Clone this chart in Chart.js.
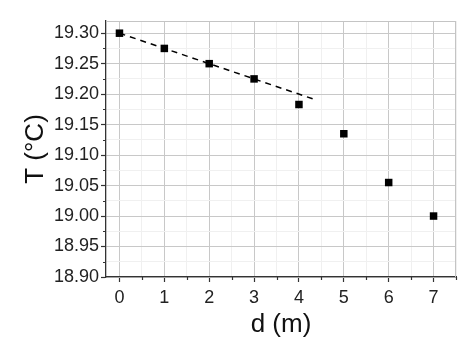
<!DOCTYPE html>
<html><head><meta charset="utf-8">
<script src="https://cdn.jsdelivr.net/npm/chart.js@4"></script>
<style>html,body{margin:0;padding:0;background:#fff}#w{width:467px;height:347px}</style>
</head><body><div id="w"><canvas id="c"></canvas></div>
<script>
const distances = [0, 1, 2, 3, 4, 5, 6, 7];
const temps = [19.300, 19.275, 19.250, 19.225, 19.183, 19.135, 19.055, 19.000];
const fitX = [0, 4.4];
const fitY = [19.300, 19.190];
const xTickLabels = ['0','1','2','3','4','5','6','7'];
const yTickLabels = ['18.90','18.95','19.00','19.05','19.10','19.15','19.20','19.25','19.30'];

const xMajor = xTickLabels.map(Number);
const yMajor = yTickLabels.map(Number);
const xMinor = xMajor.map(v => v + 0.5);
const yMinor = yMajor.slice(0, -1).map(v => +(v + 0.025).toFixed(3));
const isMajor = (v, arr) => arr.some(a => Math.abs(a - v) < 1e-6);

const extras = {
  id: 'extras',
  afterDraw(chart) {
    const {ctx, chartArea: a, scales: {x, y}} = chart;
    ctx.save();
    ctx.strokeStyle = '#c4c4c4'; ctx.lineWidth = 1;
    ctx.beginPath();
    ctx.moveTo(a.left, a.top + 0.5); ctx.lineTo(a.right, a.top + 0.5);
    ctx.moveTo(a.right - 0.5, a.top); ctx.lineTo(a.right - 0.5, a.bottom);
    ctx.stroke();
    ctx.strokeStyle = '#333'; ctx.lineWidth = 1.2;
    ctx.beginPath();
    xMinor.forEach(v => { const p = Math.round(x.getPixelForValue(v)) + 0.5; ctx.moveTo(p, a.bottom); ctx.lineTo(p, a.bottom + 3); });
    yMinor.forEach(v => { const p = Math.round(y.getPixelForValue(v)) + 0.5; ctx.moveTo(a.left, p); ctx.lineTo(a.left - 3, p); });
    ctx.stroke();
    ctx.restore();
  }
};

new Chart(document.getElementById('c'), {
  type: 'scatter',
  data: {
    datasets: [
      { type: 'line', data: fitX.map((v, i) => ({x: v, y: fitY[i]})), borderColor: '#000', borderWidth: 1.5,
        borderDash: [6, 5], pointRadius: 0, fill: false, order: 2 },
      { data: distances.map((v, i) => ({x: v, y: temps[i]})), pointStyle: 'rect', radius: 5.3,
        backgroundColor: '#000', borderColor: '#000', borderWidth: 0, order: 1 }
    ]
  },
  plugins: [extras],
  options: {
    responsive: true, maintainAspectRatio: false, animation: false,
    layout: { padding: { top: 21, right: 11, left: 0, bottom: 0 } },
    plugins: { legend: { display: false }, tooltip: { enabled: false } },
    scales: {
      x: {
        type: 'linear', min: -0.3, max: 7.5,
        afterBuildTicks: s => { s.ticks = [...xMajor, ...xMinor].sort((a, b) => a - b).map(v => ({value: v})); },
        afterFit: s => { s.height = 70; },
        ticks: { autoSkip: false, maxRotation: 0, padding: 5, color: '#222',
          font: { family: 'Liberation Sans, Arial, sans-serif', size: 18 },
          callback: v => isMajor(v, xMajor) ? xTickLabels[xMajor.findIndex(a => Math.abs(a - v) < 1e-6)] : '' },
        grid: { color: c => isMajor(c.tick.value, xMajor) ? '#c8c8c8' : '#f0f0f0',
          tickColor: c => isMajor(c.tick.value, xMajor) ? '#333' : 'rgba(0,0,0,0)', tickLength: 5, tickWidth: 1.2 },
        border: { color: '#333', width: 1.3 },
        title: { display: true, text: 'd (m)', color: '#111', padding: { top: 0, bottom: 7 },
          font: { family: 'Liberation Sans, Arial, sans-serif', size: 26 } }
      },
      y: {
        type: 'linear', min: 18.9, max: 19.32,
        afterBuildTicks: s => { s.ticks = [...yMajor, ...yMinor].sort((a, b) => a - b).map(v => ({value: v})); },
        afterFit: s => { s.width = 106; },
        ticks: { autoSkip: false, padding: 2, color: '#222',
          font: { family: 'Liberation Sans, Arial, sans-serif', size: 18 },
          callback: v => isMajor(v, yMajor) ? yTickLabels[yMajor.findIndex(a => Math.abs(a - v) < 1e-6)] : '' },
        grid: { color: c => isMajor(c.tick.value, yMajor) ? '#c8c8c8' : '#f0f0f0',
          tickColor: c => isMajor(c.tick.value, yMajor) ? '#333' : 'rgba(0,0,0,0)', tickLength: 5, tickWidth: 1.2 },
        border: { color: '#333', width: 1.3 },
        title: { display: true, text: 'T (°C)', color: '#111', padding: { top: 20, bottom: 0 },
          font: { family: 'Liberation Sans, Arial, sans-serif', size: 26 } }
      }
    }
  }
});
</script></body></html>
